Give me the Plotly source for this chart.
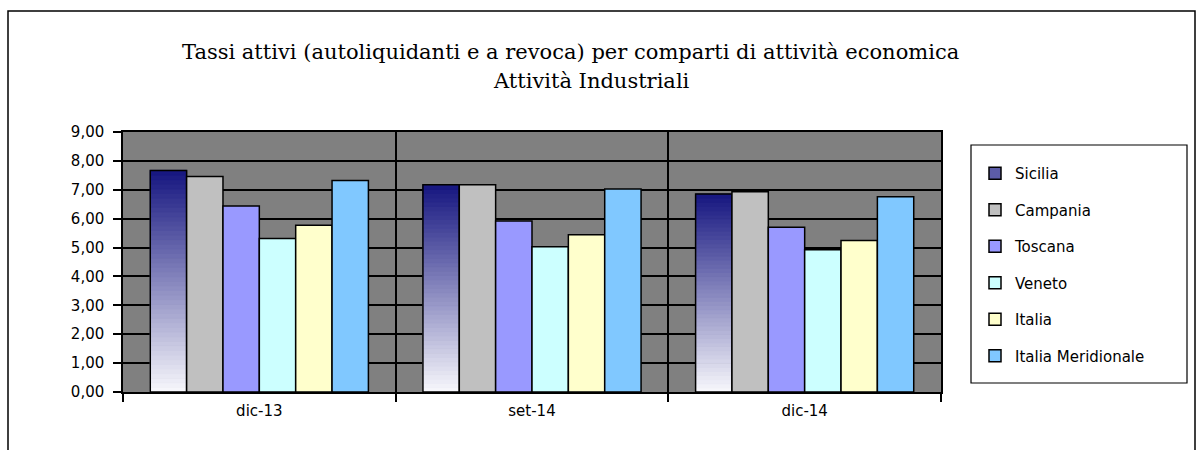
import plotly.graph_objects as go

categories = ["dic-13", "set-14", "dic-14"]
sicilia = [7.67, 7.17, 6.85]
campania = [7.46, 7.17, 6.93]
toscana = [6.44, 5.92, 5.70]
veneto = [5.31, 5.03, 4.92]
italia = [5.77, 5.44, 5.24]
meridionale = [7.32, 7.03, 6.76]

series = [
    ("Campania", campania, "#c0c0c0"),
    ("Toscana", toscana, "#9999ff"),
    ("Veneto", veneto, "#ccffff"),
    ("Italia", italia, "#ffffcc"),
    ("Italia Meridionale", meridionale, "#80c8ff"),
]

W, H = 1197, 450
L, R, T, B = 123, 941, 132, 392  # plot area pixels


def px_x(px):
    return (px - L) / (R - L)


def px_y(py):
    return (B - py) / (B - T)


fig = go.Figure()

# Sicilia legend entry (dummy)
fig.add_trace(go.Bar(
    x=categories, y=[None] * 3, name="Sicilia", offsetgroup="Sicilia",
    marker=dict(color="#5c5ca8", line=dict(color="black", width=1.5)),
    legendgroup="Sicilia", showlegend=True, hoverinfo="skip"))

# Sicilia gradient: stacked thin segments
N = 48
top = (22, 22, 128)
bot = (248, 248, 252)
for i in range(N):
    t = (i + 0.5) / N
    c = tuple(int(round(bot[k] + (top[k] - bot[k]) * t)) for k in range(3))
    col = "rgb(%d,%d,%d)" % c
    fig.add_trace(go.Bar(
        x=categories, y=[v / N for v in sicilia], base=[v * i / N for v in sicilia],
        offsetgroup="Sicilia", name="Sicilia", legendgroup="Sicilia",
        marker=dict(color=col, line=dict(width=1, color=col)),
        showlegend=False, hoverinfo="skip"))
# Sicilia outline
fig.add_trace(go.Bar(
    x=categories, y=sicilia, offsetgroup="Sicilia", name="Sicilia", legendgroup="Sicilia",
    marker=dict(color="rgba(0,0,0,0)", line=dict(color="black", width=1.5)),
    showlegend=False))

for name, vals, col in series:
    fig.add_trace(go.Bar(
        x=categories, y=vals, name=name, offsetgroup=name, legendgroup=name,
        marker=dict(color=col, line=dict(color="black", width=1.5))))

shapes = [
    # outer frame
    dict(type="rect", xref="paper", yref="paper",
         x0=px_x(8), x1=px_x(1195), y0=px_y(470), y1=px_y(11),
         line=dict(color="black", width=1.5), fillcolor="rgba(0,0,0,0)", layer="below"),
    # legend frame
    dict(type="rect", xref="paper", yref="paper",
         x0=px_x(971), x1=px_x(1187), y0=px_y(383), y1=px_y(145),
         line=dict(color="black", width=1.2), fillcolor="white"),
]

annotations = [
    dict(text="Tassi attivi (autoliquidanti e a revoca) per comparti di attività economica",
         xref="paper", yref="paper", x=px_x(570), y=px_y(52), showarrow=False,
         xanchor="center", yanchor="middle",
         font=dict(family="DejaVu Serif", size=21, color="black")),
    dict(text="Attività Industriali",
         xref="paper", yref="paper", x=px_x(591), y=px_y(81), showarrow=False,
         xanchor="center", yanchor="middle",
         font=dict(family="DejaVu Serif", size=21, color="black")),
]

fig.update_layout(
    width=W, height=H,
    margin=dict(l=L, r=W - R, t=T, b=H - B, pad=0),
    paper_bgcolor="white", plot_bgcolor="#808080",
    barmode="group", bargap=0.2, bargroupgap=0,
    separators=",.",
    showlegend=True,
    legend=dict(x=px_x(975), y=px_y(157), xanchor="left", yanchor="top",
                bgcolor="rgba(0,0,0,0)", borderwidth=0,
                font=dict(family="DejaVu Sans", size=15, color="black"),
                tracegroupgap=14, traceorder="grouped"),
    shapes=shapes, annotations=annotations,
    font=dict(family="DejaVu Sans", color="black"),
)
fig.update_xaxes(
    type="category", tickson="boundaries", ticks="outside", ticklen=8,
    tickcolor="black", tickwidth=1.5, showgrid=True, gridcolor="black", gridwidth=1.5,
    showline=True, linecolor="black", linewidth=1.5, mirror=True, ticklabelstandoff=4,
    tickfont=dict(family="DejaVu Sans", size=15, color="black"))
fig.update_yaxes(
    range=[0, 9], dtick=1, tickformat=".2f", ticks="outside", ticklen=8,
    tickcolor="black", tickwidth=1.5, showgrid=True, gridcolor="black", gridwidth=1.5,
    showline=True, linecolor="black", linewidth=1.5, mirror=True, zeroline=False,
    ticklabelstandoff=6,
    tickfont=dict(family="DejaVu Sans", size=15, color="black"))

fig.write_html("out.html", config={"displayModeBar": False},
               post_script="document.body.style.margin='0';")
